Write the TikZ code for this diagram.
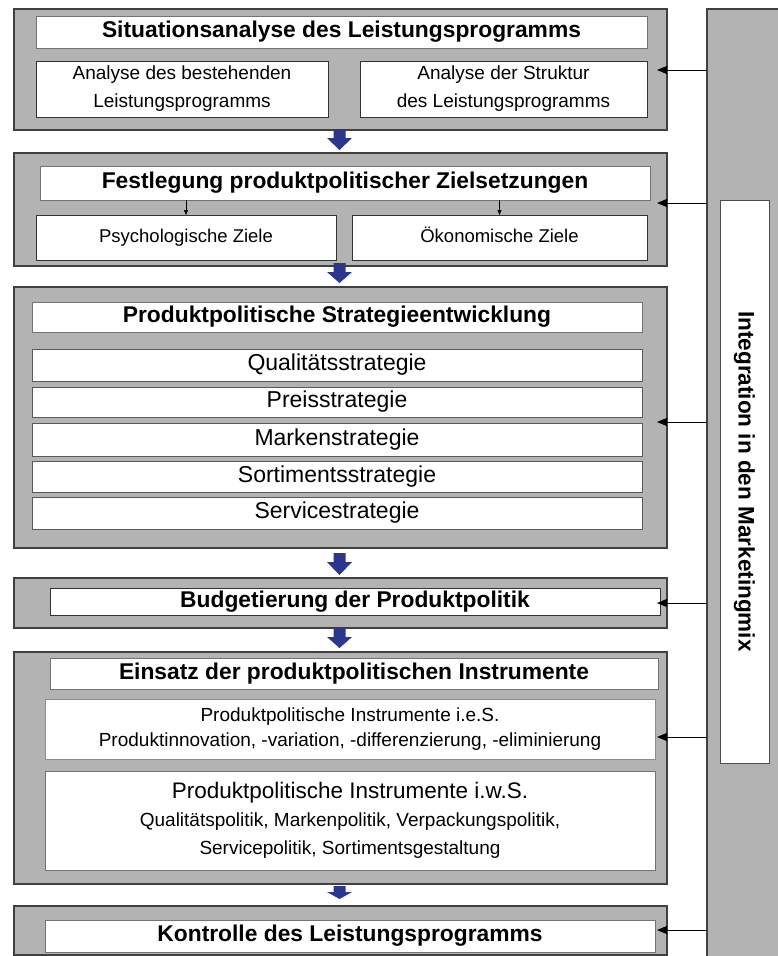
\documentclass[tikz,border=0pt]{standalone}
\usepackage{fontspec}
\setmainfont{Liberation Sans}
\usetikzlibrary{arrows.meta,calc}

\definecolor{panel}{RGB}{179,179,179}
\definecolor{flow}{RGB}{44,54,140}

\tikzset{
  grp/.style={draw=black!75, line width=1.2pt, fill=panel, inner sep=0pt, outer sep=0pt},
  headbox/.style={draw=black!55, line width=0.9pt, fill=white, inner sep=0pt, outer sep=0pt,
    text height=16.5pt, text depth=4.8pt,
    font=\fontsize{22.8}{26}\selectfont\bfseries},
  subbox/.style={draw=black!80, line width=0.9pt, fill=white, inner sep=0pt, outer sep=0pt,
    align=center, font=\fontsize{19}{28}\selectfont},
  goalbox/.style={draw=black!80, line width=0.9pt, fill=white, inner sep=0pt, outer sep=0pt,
    text height=13.5pt, text depth=4pt, font=\fontsize{18.5}{24}\selectfont},
  stratbox/.style={draw=black!65, line width=0.9pt, fill=white, inner sep=0pt, outer sep=0pt,
    text height=16.6pt, text depth=4.9pt, font=\fontsize{23}{26}\selectfont},
  feed/.style={-{Triangle[length=10pt,width=8pt]}, line width=1pt},
  drop/.style={-{Triangle[length=5pt,width=4pt]}, line width=0.7pt},
}

% box given by its corners: style, name, x1, y1, x2, y2, text
\newcommand\cellbox[7]{%
  \node[#1, minimum width={#5-#3}, minimum height={#6-#4}] (#2)
    at ({(#3+#5)/2},{(#4+#6)/2}) {#7};}

% broad blue arrow: centre x, top, neck, tip
\newcommand\flowarrow[4]{%
  \fill[flow] ({#1-6},#2) -- ({#1+6},#2) -- ({#1+6},#3) -- ({#1+12.5},#3)
    -- (#1,#4) -- ({#1-12.5},#3) -- ({#1-6},#3) -- cycle;}

\begin{document}
\begin{tikzpicture}[x=1pt,y=-1pt]
\useasboundingbox (0,0) rectangle (778,956);
\fill[white] (0,0) rectangle (778,956);

% integration column on the right
\cellbox{grp}{intcol}{707}{9}{780}{958}{}
\cellbox{grp, fill=white, draw=black!70, line width=0.9pt}{intin}{720}{200}{769}{763}{}
\node[rotate=-90, font=\fontsize{22.5}{26}\selectfont\bfseries] (inttext) at (intin.center)
  {Integration in den Marketingmix};

% 1: Situationsanalyse
\cellbox{grp}{g1}{14}{9}{667}{130}{}
\cellbox{headbox}{t1}{36}{16}{647}{48}{Situationsanalyse des Leistungsprogramms}
\cellbox{subbox}{s1a}{36}{61}{328}{117}{Analyse des bestehenden\\Leistungsprogramms}
\cellbox{subbox}{s1b}{360}{61}{647}{117}{Analyse der Struktur\\des Leistungsprogramms}

% 2: Zielsetzungen
\cellbox{grp}{g2}{14}{153}{667}{266}{}
\cellbox{headbox}{t2}{40}{166}{650}{200}{Festlegung produktpolitischer Zielsetzungen}
\cellbox{goalbox}{s2a}{36}{215}{336}{260}{Psychologische Ziele}
\cellbox{goalbox}{s2b}{352}{215}{647}{260}{Ökonomische Ziele}
\draw[drop] (s2a.north |- t2.south) -- (s2a.north);
\draw[drop] (s2b.north |- t2.south) -- (s2b.north);

% 3: Strategieentwicklung
\cellbox{grp}{g3}{14}{287}{667}{548}{}
\cellbox{headbox}{t3}{32}{302}{642}{332}{Produktpolitische Strategieentwicklung}
\cellbox{stratbox}{st1}{32}{349}{642}{381}{Qualitätsstrategie}
\cellbox{stratbox}{st2}{32}{387}{642}{417}{Preisstrategie}
\cellbox{stratbox}{st3}{32}{423}{642}{456}{Markenstrategie}
\cellbox{stratbox}{st4}{32}{461}{642}{492}{Sortimentsstrategie}
\cellbox{stratbox}{st5}{32}{497}{642}{529}{Servicestrategie}

% 4: Budgetierung
\cellbox{grp}{g4}{14}{578}{667}{628}{}
\cellbox{headbox, draw=black!80}{t4}{50}{588}{660}{615}{Budgetierung der Produktpolitik}

% 5: Instrumente
\cellbox{grp}{g5}{14}{652}{667}{884}{}
\cellbox{headbox}{t5}{50}{658}{658}{689}{Einsatz der produktpolitischen Instrumente}
\cellbox{subbox, draw=black!45, font=\fontsize{19}{25}\selectfont}{ies}{45}{699}{655}{759}
  {Produktpolitische Instrumente i.e.S.\\Produktinnovation, -variation, -differenzierung, -eliminierung}
\cellbox{subbox, draw=black!55}{iws}{45}{771}{655}{870}
  {{\fontsize{22.5}{28}\selectfont Produktpolitische Instrumente i.w.S.}\\
   Qualitätspolitik, Markenpolitik, Verpackungspolitik,\\Servicepolitik, Sortimentsgestaltung}

% 6: Kontrolle
\cellbox{grp}{g6}{14}{906}{667}{955}{}
\cellbox{headbox}{t6}{45}{920}{655}{952}{Kontrolle des Leistungsprogramms}

% flow between the stages
\flowarrow{339.5}{129}{138}{150}
\flowarrow{339.5}{263}{272}{283}
\flowarrow{339.5}{553}{562}{575}
\flowarrow{339.5}{627}{637}{648}
\flowarrow{339.5}{886}{892}{899}

% feedback from the integration column
\coordinate (f1) at (657,70);
\coordinate (f2) at (657,203);
\coordinate (f3) at (657,422);
\coordinate (f4) at (657,603);
\coordinate (f5) at (657,737);
\coordinate (f6) at (657,930);
\foreach \f in {f1,f2,f3,f4,f5,f6}
  \draw[feed] (intcol.west |- \f) -- (\f);
\end{tikzpicture}
\end{document}
